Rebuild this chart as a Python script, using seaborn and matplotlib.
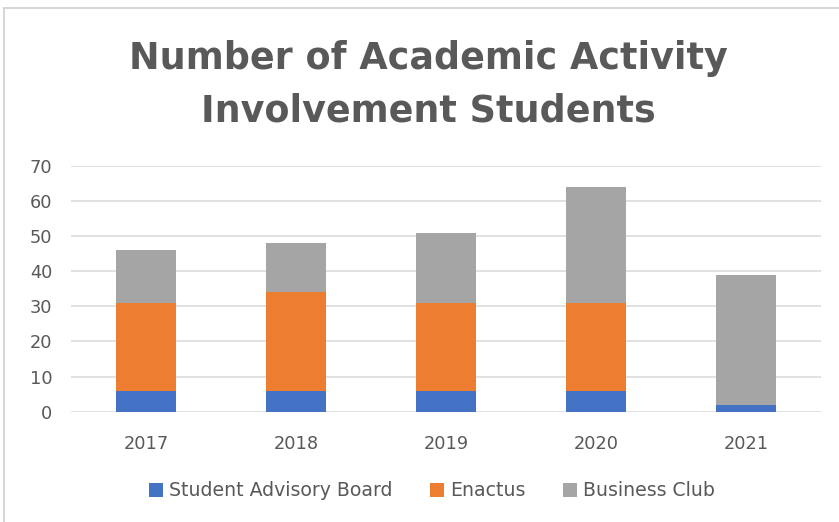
import matplotlib
matplotlib.use("Agg")
import matplotlib.pyplot as plt
from matplotlib.lines import Line2D
from matplotlib.patches import Patch
import pandas as pd
import seaborn as sns

years = ["2017", "2018", "2019", "2020", "2021"]
advisory_board = [6, 6, 6, 6, 2]
enactus = [25, 28, 25, 25, 0]
business_club = [15, 14, 20, 33, 37]
series_names = ["Student Advisory Board", "Enactus", "Business Club"]
colors = ["#4472C4", "#ED7D31", "#A5A5A5"]
y_ticks = [0, 10, 20, 30, 40, 50, 60, 70]

sns.set_theme(style="white")
plt.rcParams["font.family"] = ["DejaVu Sans"]

text_gray = "#595959"
grid_gray = "#D9D9D9"

fig = plt.figure(figsize=(8.39, 5.22), dpi=100)
ax = fig.add_axes([0.0846, 0.2113, 0.894, 0.4707])

df = pd.DataFrame({
    "year": years,
    "Student Advisory Board": advisory_board,
    "Enactus": enactus,
    "Business Club": business_club,
})
# stacked totals, drawn back to front
stack = df[series_names].cumsum(axis=1)
for name, color in reversed(list(zip(series_names, colors))):
    sns.barplot(x=df["year"], y=stack[name], color=color, width=0.4,
                saturation=1, ax=ax, zorder=3, edgecolor="none", linewidth=0)

ax.set_ylim(0, 70)
ax.set_xlim(-0.5, 4.5)
ax.set_yticks(y_ticks)
ax.set_yticklabels([str(t) for t in y_ticks])
ax.yaxis.grid(True, color=grid_gray, linewidth=1.1, zorder=0)
ax.set_axisbelow(True)
for s in ax.spines.values():
    s.set_visible(False)
ax.tick_params(axis="both", length=0, colors=text_gray, labelsize=12.8)
ax.tick_params(axis="x", pad=17)
ax.tick_params(axis="y", pad=13.5)
ax.set_xlabel("")
ax.set_ylabel("")

fig.text(0.510, 1 - 69 / 522, "Number of Academic Activity", ha="center",
         va="baseline", fontsize=26.3, fontweight="bold", color=text_gray)
fig.text(0.510, 1 - 121 / 522, "Involvement Students", ha="center",
         va="baseline", fontsize=26.3, fontweight="bold", color=text_gray)

handles = [Patch(facecolor=c, edgecolor="none") for c in colors]
fig.legend(handles, series_names, loc="center", bbox_to_anchor=(0.515, 0.0594),
           ncol=3, frameon=False, fontsize=13.6, labelcolor=text_gray,
           handlelength=0.75, handleheight=0.75, handletextpad=0.3,
           columnspacing=2.0)

# outer chart frame (top and left edges)
fig.add_artist(Line2D([4 / 839, 4 / 839], [0, 1 - 8 / 522], color="#D0D0D0",
                      linewidth=1.2, transform=fig.transFigure))
fig.add_artist(Line2D([4 / 839, 1], [1 - 8 / 522, 1 - 8 / 522], color="#D0D0D0",
                      linewidth=1.2, transform=fig.transFigure))

fig.savefig("out.png", dpi=100, facecolor="white")
